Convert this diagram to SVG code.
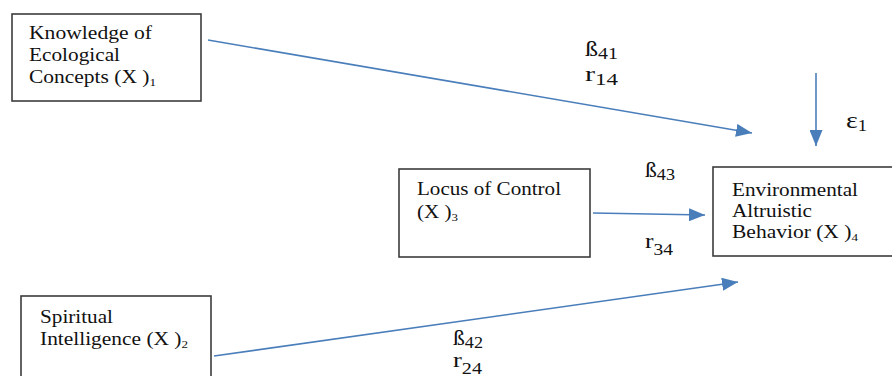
<svg xmlns="http://www.w3.org/2000/svg" width="892" height="376" viewBox="0 0 892 376">
<style>
.box{fill:#fff;stroke:#3c3c3c;stroke-width:1.6}
.t{font-family:"Liberation Serif","Times New Roman",serif;font-size:18px;fill:#111}
.sub{font-size:11px}
.lab{font-family:"Liberation Serif","Times New Roman",serif;font-size:21px;fill:#111}
.ls{font-size:16px}
.conn{stroke:#4a7ebb;stroke-width:1.6;fill:none;marker-end:url(#ah)}
</style>
<defs>
<marker id="ah" markerUnits="userSpaceOnUse" markerWidth="17" markerHeight="13" refX="16" refY="6.5" orient="auto">
<path d="M0,0 L16,6.5 L0,13 z" fill="#4a7ebb"/>
</marker>
</defs>
<rect width="892" height="376" fill="#fff"/>
<g id="connectors">
<line class="conn" x1="208" y1="40" x2="752" y2="133"/>
<line class="conn" x1="816" y1="73" x2="816" y2="146"/>
<line class="conn" x1="593" y1="213" x2="705" y2="215"/>
<line class="conn" x1="214" y1="356" x2="738" y2="282"/>
</g>
<g id="n1">
<rect class="box" x="12" y="14" width="189" height="87"/>
<text class="t" x="29" y="39" textLength="123" lengthAdjust="spacingAndGlyphs">Knowledge of</text>
<text class="t" x="29" y="61" textLength="91" lengthAdjust="spacingAndGlyphs">Ecological</text>
<text class="t" x="29" y="83" textLength="127" lengthAdjust="spacingAndGlyphs">Concepts (X )<tspan class="sub" dy="3">1</tspan></text>
</g>
<g id="n3">
<rect class="box" x="399" y="169" width="191" height="88"/>
<text class="t" x="417" y="195" textLength="144" lengthAdjust="spacingAndGlyphs">Locus of Control</text>
<text class="t" x="417" y="218" textLength="41" lengthAdjust="spacingAndGlyphs">(X )<tspan class="sub" dy="3">3</tspan></text>
</g>
<g id="n4">
<rect class="box" x="713" y="167" width="185" height="89"/>
<text class="t" x="732" y="196" textLength="126" lengthAdjust="spacingAndGlyphs">Environmental</text>
<text class="t" x="732" y="217" textLength="80" lengthAdjust="spacingAndGlyphs">Altruistic</text>
<text class="t" x="732" y="238" textLength="126" lengthAdjust="spacingAndGlyphs">Behavior (X )<tspan class="sub" dy="3">4</tspan></text>
</g>
<g id="n2">
<rect class="box" x="21" y="296" width="190" height="90"/>
<text class="t" x="40" y="323" textLength="73" lengthAdjust="spacingAndGlyphs">Spiritual</text>
<text class="t" x="40" y="345" textLength="148" lengthAdjust="spacingAndGlyphs">Intelligence (X )<tspan class="sub" dy="3">2</tspan></text>
</g>
<g id="labels">
<text class="lab" x="585" y="56" textLength="33" lengthAdjust="spacingAndGlyphs">ß<tspan class="ls" dy="3">41</tspan></text>
<text class="lab" x="585" y="81" textLength="33" lengthAdjust="spacingAndGlyphs">r<tspan class="ls" dy="4">14</tspan></text>
<text class="lab" x="645" y="177" textLength="30" lengthAdjust="spacingAndGlyphs">ß<tspan class="ls" dy="3">43</tspan></text>
<text class="lab" x="645" y="248" textLength="28" lengthAdjust="spacingAndGlyphs">r<tspan class="ls" dy="7">34</tspan></text>
<text class="lab" x="453" y="345" textLength="30" lengthAdjust="spacingAndGlyphs">ß<tspan class="ls" dy="3">42</tspan></text>
<text class="lab" x="453" y="367" textLength="29" lengthAdjust="spacingAndGlyphs">r<tspan class="ls" dy="7">24</tspan></text>
<text class="lab" x="846" y="128" style="font-size:24px" textLength="21" lengthAdjust="spacingAndGlyphs">ε<tspan class="ls" dy="3">1</tspan></text>
</g>
</svg>
